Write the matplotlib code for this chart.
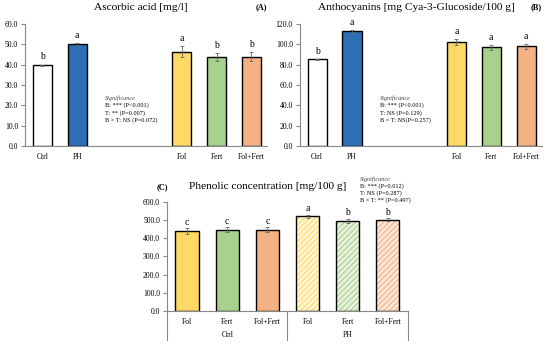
import matplotlib.pyplot as plt
from matplotlib.lines import Line2D

# Panel A / B data
cats_ab = ["Ctrl", "PH", "Fol", "Fert", "Fol+Fert"]
pos_ab = [0, 1, 4, 5, 6]
asc_vals = [39.8, 50.0, 46.5, 44.0, 44.0]
asc_err = [0.3, 0.7, 2.5, 2.0, 2.2]
asc_letters = ["b", "a", "a", "b", "b"]
anth_vals = [85.5, 113.0, 102.5, 97.0, 98.0]
anth_err = [0.5, 0.8, 3.0, 2.5, 2.5]
anth_letters = ["b", "a", "a", "a", "a"]

# Panel C data
cats_c = ["Fol", "Fert", "Fol+Fert", "Fol", "Fert", "Fol+Fert"]
groups_c = ["Ctrl", "PH"]
phen_vals = [440, 447, 447, 520, 495, 503]
phen_err = [15, 15, 15, 10, 12, 8]
phen_letters = ["c", "c", "c", "a", "b", "b"]

blue = "#2E6EB5"
yellow = "#FFD966"
green = "#A9D18E"
orange = "#F4B183"
colors_ab = ["white", blue, yellow, green, orange]
colors_c = [yellow, green, orange]
light_c = ["#FFF6D6", "#E6F2DE", "#FCE6D8"]

plt.rcParams["font.family"] = ["Liberation Serif", "DejaVu Serif"]
plt.rcParams["hatch.linewidth"] = 0.8
grey = "#888888"

fig = plt.figure(figsize=(5.5, 3.45), dpi=100)


def style_axes(ax, ymax, step):
    for s in ["top", "right"]:
        ax.spines[s].set_visible(False)
    ax.spines["left"].set_color(grey)
    ax.spines["bottom"].set_color(grey)
    ax.spines["left"].set_linewidth(0.8)
    ax.spines["bottom"].set_linewidth(0.8)
    ax.set_ylim(0, ymax)
    ax.set_yticks([i * step for i in range(int(ymax / step) + 1)])
    ax.set_yticklabels(["%.1f" % (i * step) for i in range(int(ymax / step) + 1)])
    ax.tick_params(axis="y", direction="out", length=3, width=0.8, color=grey,
                   labelsize=5.5, pad=2)
    ax.tick_params(axis="x", length=0, labelsize=5.5, pad=5)


def sig_block(ax, x, y, sig):
    ax.text(x, y, "Significance", transform=ax.transAxes, fontsize=4.5,
            style="italic", color="#444444", va="center")
    ax.text(x, y - 0.035, sig, transform=ax.transAxes, fontsize=4.5, va="top",
            linespacing=1.35)


def top_panel(rect, vals, err, letters, ymax, step, title, label, sig):
    ax = fig.add_axes(rect)
    ax.bar(pos_ab, vals, width=0.55, color=colors_ab, edgecolor="black", linewidth=1.0,
           zorder=2)
    ax.errorbar(pos_ab, vals, yerr=err, fmt="none", ecolor="#666666", elinewidth=0.6,
                capsize=1.5, capthick=0.6, zorder=3)
    for x, v, e, l in zip(pos_ab, vals, err, letters):
        ax.text(x, v + e + ymax * 0.025, l, ha="center", va="bottom", fontsize=7)
    ax.set_xlim(-0.5, 6.45)
    ax.set_xticks(pos_ab)
    ax.set_xticklabels(cats_ab)
    style_axes(ax, ymax, step)
    ax.text(0.48, 1.135, title, transform=ax.transAxes, ha="center", va="center",
            fontsize=8.2)
    ax.text(1.0, 1.14, label, transform=ax.transAxes, ha="right", va="center",
            fontsize=6, fontweight="bold")
    sig_block(ax, 0.33, 0.39, sig)
    return ax


top_panel([0.0455, 0.577, 0.44, 0.353], asc_vals, asc_err, asc_letters, 60, 10,
          "Ascorbic acid [mg/l]", "(A)",
          "B: *** (P<0.001)\nT: ** (P=0.007)\nB \u00d7 T: NS (P=0.072)")
top_panel([0.545, 0.577, 0.44, 0.353], anth_vals, anth_err, anth_letters, 120, 20,
          "Anthocyanins [mg Cya-3-Glucoside/100 g]", "(B)",
          "B: *** (P<0.001)\nT: NS (P=0.129)\nB \u00d7 T: NS(P=0.257)")

# Panel C
axc = fig.add_axes([0.3036, 0.0986, 0.438, 0.316])
pos_c = list(range(len(cats_c)))
axc.bar(pos_c[:3], phen_vals[:3], width=0.58, color=colors_c, edgecolor="black",
        linewidth=1.0, zorder=2)
axc.bar(pos_c[3:], phen_vals[3:], width=0.58, color=light_c, edgecolor=colors_c,
        hatch="//////", linewidth=0, zorder=2)
axc.bar(pos_c[3:], phen_vals[3:], width=0.58, color="none", edgecolor="black",
        linewidth=1.0, zorder=2.5)
axc.errorbar(pos_c, phen_vals, yerr=phen_err, fmt="none", ecolor="#666666",
             elinewidth=0.6, capsize=1.5, capthick=0.6, zorder=3)
for x, v, e, l in zip(pos_c, phen_vals, phen_err, phen_letters):
    axc.text(x, v + e + 8, l, ha="center", va="bottom", fontsize=7)
axc.set_xlim(-0.5, 5.5)
axc.set_xticks(pos_c)
axc.set_xticklabels(cats_c)
style_axes(axc, 600, 100)
tr = axc.get_xaxis_transform()
for xd in [-0.5, 2.5, 5.5]:
    axc.add_line(Line2D([xd, xd], [0, -0.27], transform=tr, color=grey, lw=0.8,
                        clip_on=False))
for i, g in enumerate(groups_c):
    axc.text(1 + 3 * i, -0.22, g, transform=tr, ha="center", va="center", fontsize=5.5)
axc.text(0.42, 1.14, "Phenolic concentration [mg/100 g]", transform=axc.transAxes,
         ha="center", va="center", fontsize=8.2)
axc.text(-0.02, 1.14, "(C)", transform=axc.transAxes, ha="center", va="center",
         fontsize=6, fontweight="bold")
sig_block(axc, 0.80, 1.21, "B: *** (P=0.012)\nT: NS (P=0.287)\nB \u00d7 T: ** (P=0.497)")

fig.savefig("out.png", dpi=100)
